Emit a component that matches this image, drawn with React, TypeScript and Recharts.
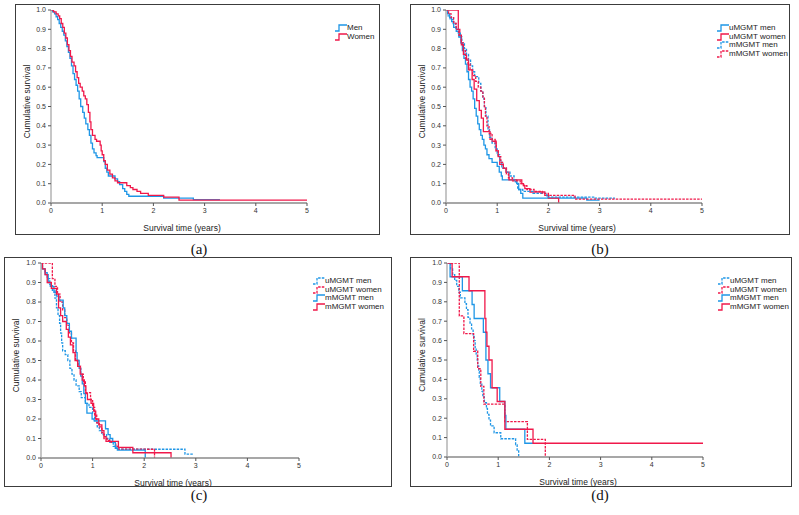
import React from 'react';
import { LineChart, Line, XAxis, YAxis, Legend, Label } from 'recharts';

type Pt = [number, number];

const FONT = '"Liberation Sans Narrow", "Liberation Sans", Arial, sans-serif';
const BLUE = '#1e96e6';
const RED = '#f0184a';

const xTicks = [0, 1, 2, 3, 4, 5];
const yTicks = [0, 0.1, 0.2, 0.3, 0.4, 0.5, 0.6, 0.7, 0.8, 0.9, 1.0];
const panelLabels = ['(a)', '(b)', '(c)', '(d)'];
const xTitle = 'Survival time (years)';
const yTitle = 'Cumulative survival';

// (a) all patients by sex: [years, survival]
const aMen: Pt[] = [
  [0, 1], [0.03, 0.99], [0.07, 0.98], [0.1, 0.965], [0.13, 0.95], [0.16, 0.93], [0.19, 0.91],
  [0.22, 0.89], [0.25, 0.87], [0.28, 0.84], [0.31, 0.81], [0.34, 0.78], [0.37, 0.75], [0.4, 0.71],
  [0.43, 0.67], [0.46, 0.64], [0.49, 0.61], [0.52, 0.58], [0.55, 0.54], [0.58, 0.5], [0.62, 0.47],
  [0.65, 0.44], [0.68, 0.41], [0.72, 0.38], [0.75, 0.35], [0.78, 0.31], [0.81, 0.28], [0.84, 0.26],
  [0.88, 0.245], [0.9, 0.235], [1.03, 0.215], [1.06, 0.18], [1.09, 0.16], [1.12, 0.14], [1.25, 0.125],
  [1.3, 0.11], [1.34, 0.095], [1.4, 0.075], [1.44, 0.06], [1.48, 0.045], [1.52, 0.035], [2.2, 0.025],
  [2.78, 0.018], [3.3, 0.018],
];
const aWomen: Pt[] = [
  [0, 1], [0.05, 0.99], [0.1, 0.98], [0.14, 0.97], [0.17, 0.955], [0.2, 0.93], [0.23, 0.91],
  [0.26, 0.88], [0.29, 0.855], [0.32, 0.82], [0.35, 0.79], [0.38, 0.76], [0.41, 0.73], [0.45, 0.71],
  [0.48, 0.68], [0.51, 0.65], [0.54, 0.62], [0.57, 0.6], [0.61, 0.58], [0.64, 0.555], [0.67, 0.54],
  [0.7, 0.51], [0.73, 0.47], [0.76, 0.42], [0.78, 0.38], [0.81, 0.35], [0.86, 0.33], [0.89, 0.32],
  [0.96, 0.3], [0.98, 0.27], [1.0, 0.25], [1.03, 0.22], [1.06, 0.2], [1.1, 0.17], [1.15, 0.15],
  [1.2, 0.13], [1.25, 0.115], [1.3, 0.105], [1.48, 0.09], [1.55, 0.08], [1.6, 0.07], [1.68, 0.06],
  [1.75, 0.05], [1.9, 0.04], [2.2, 0.03], [2.5, 0.015], [5, 0.015],
];

// (b)
const bUMen: Pt[] = [
  [0, 1], [0.03, 0.98], [0.07, 0.96], [0.11, 0.94], [0.15, 0.91], [0.2, 0.89], [0.25, 0.86],
  [0.29, 0.83], [0.32, 0.79], [0.35, 0.75], [0.38, 0.72], [0.41, 0.68], [0.44, 0.64], [0.47, 0.6],
  [0.5, 0.58], [0.53, 0.54], [0.56, 0.49], [0.59, 0.45], [0.62, 0.41], [0.65, 0.38], [0.68, 0.35],
  [0.71, 0.33], [0.74, 0.3], [0.77, 0.28], [0.8, 0.25], [0.84, 0.23], [0.9, 0.21], [1.0, 0.19],
  [1.04, 0.16], [1.08, 0.14], [1.1, 0.12], [1.38, 0.1], [1.42, 0.07], [1.46, 0.05], [1.5, 0.025],
  [2.75, 0.015], [3.0, 0.015],
];
const bUWomen: Pt[] = [
  [0, 1], [0.24, 0.9], [0.27, 0.87], [0.3, 0.82], [0.34, 0.77], [0.4, 0.74], [0.44, 0.69],
  [0.51, 0.64], [0.55, 0.59], [0.6, 0.53], [0.65, 0.48], [0.69, 0.44], [0.73, 0.37], [0.86, 0.33],
  [0.9, 0.32], [0.98, 0.27], [1.02, 0.24], [1.05, 0.2], [1.12, 0.18], [1.17, 0.16], [1.23, 0.12],
  [1.48, 0.1], [1.51, 0.09], [1.54, 0.075], [1.64, 0.057], [1.93, 0.04], [2.0, 0.025], [2.2, 0],
];
const bMMen: Pt[] = [
  [0, 1], [0.04, 0.97], [0.08, 0.95], [0.14, 0.93], [0.19, 0.9], [0.24, 0.88], [0.28, 0.86],
  [0.31, 0.83], [0.36, 0.8], [0.4, 0.77], [0.44, 0.74], [0.48, 0.71], [0.52, 0.68], [0.56, 0.655],
  [0.64, 0.62], [0.68, 0.58], [0.72, 0.54], [0.75, 0.5], [0.78, 0.45], [0.82, 0.38], [0.85, 0.34],
  [0.9, 0.31], [0.96, 0.28], [1.0, 0.25], [1.05, 0.22], [1.09, 0.18], [1.18, 0.16], [1.25, 0.14],
  [1.33, 0.11], [1.4, 0.07], [1.5, 0.06], [1.7, 0.05], [1.97, 0.03], [2.9, 0.025], [3.3, 0.025],
];
const bMWomen: Pt[] = [
  [0, 1], [0.05, 0.98], [0.1, 0.96], [0.15, 0.93], [0.2, 0.9], [0.25, 0.87], [0.3, 0.83],
  [0.34, 0.79], [0.38, 0.75], [0.43, 0.72], [0.47, 0.69], [0.52, 0.66], [0.58, 0.63], [0.63, 0.6],
  [0.68, 0.58], [0.72, 0.55], [0.75, 0.5], [0.77, 0.45], [0.8, 0.4], [0.84, 0.36], [0.9, 0.33],
  [0.96, 0.31], [0.98, 0.27], [1.02, 0.24], [1.07, 0.21], [1.12, 0.18], [1.18, 0.15], [1.22, 0.13],
  [1.3, 0.115], [1.45, 0.1], [1.52, 0.09], [1.58, 0.07], [1.72, 0.06], [1.88, 0.05], [2.0, 0.04],
  [2.52, 0.02], [5, 0.02],
];

// (c)
const cUMen: Pt[] = [
  [0, 1], [0.03, 0.97], [0.08, 0.95], [0.12, 0.92], [0.17, 0.89], [0.22, 0.86], [0.27, 0.82],
  [0.3, 0.77], [0.33, 0.73], [0.36, 0.69], [0.38, 0.64], [0.4, 0.59], [0.42, 0.55], [0.47, 0.53],
  [0.52, 0.5], [0.56, 0.46], [0.6, 0.43], [0.64, 0.4], [0.68, 0.37], [0.74, 0.34], [0.78, 0.31],
  [0.86, 0.28], [0.93, 0.26], [1.0, 0.23], [1.04, 0.19], [1.09, 0.16], [1.13, 0.14], [1.18, 0.12],
  [1.27, 0.1], [1.33, 0.08], [1.4, 0.06], [1.47, 0.045], [2.79, 0.02], [2.95, 0.02],
];
const cUWomen: Pt[] = [
  [0, 1], [0.22, 0.92], [0.27, 0.88], [0.32, 0.84], [0.37, 0.8], [0.42, 0.76], [0.46, 0.72],
  [0.5, 0.68], [0.55, 0.64], [0.59, 0.59], [0.63, 0.55], [0.67, 0.5], [0.72, 0.47], [0.77, 0.43],
  [0.82, 0.39], [0.86, 0.335], [0.96, 0.3], [1.0, 0.26], [1.04, 0.22], [1.08, 0.18], [1.13, 0.16],
  [1.18, 0.13], [1.22, 0.1], [1.28, 0.09], [1.36, 0.08], [1.45, 0.06], [1.5, 0.045], [2.2, 0],
];
const cMMen: Pt[] = [
  [0, 1], [0.02, 0.97], [0.08, 0.94], [0.14, 0.9], [0.18, 0.88], [0.25, 0.85], [0.3, 0.83],
  [0.35, 0.81], [0.43, 0.77], [0.46, 0.73], [0.5, 0.69], [0.55, 0.65], [0.59, 0.615], [0.68, 0.54],
  [0.7, 0.5], [0.74, 0.46], [0.77, 0.42], [0.8, 0.38], [0.83, 0.33], [0.86, 0.28], [0.89, 0.23],
  [0.99, 0.2], [1.03, 0.19], [1.25, 0.15], [1.3, 0.12], [1.34, 0.1], [1.39, 0.08], [1.44, 0.05],
  [1.48, 0.04], [2.02, 0],
];
const cMWomen: Pt[] = [
  [0, 1], [0.03, 0.97], [0.08, 0.94], [0.12, 0.9], [0.2, 0.87], [0.3, 0.84], [0.34, 0.77],
  [0.38, 0.73], [0.42, 0.7], [0.49, 0.66], [0.53, 0.62], [0.57, 0.58], [0.62, 0.54], [0.66, 0.5],
  [0.71, 0.47], [0.76, 0.43], [0.8, 0.4], [0.84, 0.37], [0.87, 0.33], [0.9, 0.3], [0.97, 0.28],
  [1.02, 0.24], [1.06, 0.2], [1.12, 0.17], [1.18, 0.14], [1.22, 0.11], [1.26, 0.085], [1.5, 0.055],
  [1.78, 0.027], [2.52, 0],
];

// (d)
const dUMen: Pt[] = [
  [0, 1], [0.07, 0.97], [0.11, 0.94], [0.15, 0.91], [0.19, 0.88], [0.23, 0.85], [0.26, 0.82],
  [0.35, 0.79], [0.38, 0.76], [0.41, 0.72], [0.45, 0.69], [0.48, 0.66], [0.51, 0.63], [0.53, 0.6],
  [0.55, 0.56], [0.57, 0.53], [0.59, 0.5], [0.6, 0.47], [0.62, 0.44], [0.63, 0.41], [0.65, 0.38],
  [0.68, 0.34], [0.7, 0.31], [0.73, 0.28], [0.77, 0.25], [0.79, 0.22], [0.82, 0.19], [0.85, 0.16],
  [0.92, 0.125], [1.05, 0.094], [1.34, 0.063], [1.37, 0.031], [1.4, 0],
];
const dUWomen: Pt[] = [
  [0, 1], [0.24, 0.727], [0.33, 0.636], [0.52, 0.545], [0.6, 0.455], [0.66, 0.364], [0.72, 0.273],
  [1.13, 0.182], [1.57, 0.091], [1.92, 0],
];
const dMMen: Pt[] = [
  [0, 1], [0.06, 0.929], [0.3, 0.857], [0.49, 0.786], [0.53, 0.714], [0.71, 0.643], [0.76, 0.5],
  [0.8, 0.429], [0.85, 0.357], [1.03, 0.286], [1.13, 0.214], [1.15, 0.143], [1.52, 0.071], [1.68, 0.071],
];
const dMWomen: Pt[] = [
  [0, 1], [0.1, 0.929], [0.43, 0.857], [0.74, 0.714], [0.76, 0.643], [0.78, 0.571], [0.82, 0.5],
  [0.88, 0.357], [0.98, 0.286], [1.13, 0.143], [1.68, 0.071], [5, 0.071],
];

interface Series {
  name: string;
  pts: Pt[];
  color: string;
  dashed?: boolean;
}

interface PanelCfg {
  box: [number, number, number, number];
  plot: [number, number, number, number];
  series: Series[];
  legend: { left: number; top: number };
  label: string;
  labelPos: [number, number];
}

const panels: PanelCfg[] = [
  {
    box: [15, 4, 380, 235],
    plot: [51, 10, 307, 203],
    series: [
      { name: 'Men', pts: aMen, color: BLUE },
      { name: 'Women', pts: aWomen, color: RED },
    ],
    legend: { left: 320, top: 20 },
    label: panelLabels[0],
    labelPos: [199, 249],
  },
  {
    box: [410, 4, 790, 235],
    plot: [446, 10, 702, 203],
    series: [
      { name: 'uMGMT men', pts: bUMen, color: BLUE },
      { name: 'uMGMT women', pts: bUWomen, color: RED },
      { name: 'mMGMT men', pts: bMMen, color: BLUE, dashed: true },
      { name: 'mMGMT women', pts: bMWomen, color: RED, dashed: true },
    ],
    legend: { left: 307, top: 20 },
    label: panelLabels[1],
    labelPos: [600, 249],
  },
  {
    box: [4, 257, 392, 487],
    plot: [41, 263, 299, 458],
    series: [
      { name: 'uMGMT men', pts: cUMen, color: BLUE, dashed: true },
      { name: 'uMGMT women', pts: cUWomen, color: RED, dashed: true },
      { name: 'mMGMT men', pts: cMMen, color: BLUE },
      { name: 'mMGMT women', pts: cMWomen, color: RED },
    ],
    legend: { left: 309, top: 20 },
    label: panelLabels[2],
    labelPos: [199, 495],
  },
  {
    box: [410, 257, 792, 487],
    plot: [447, 263, 703, 457],
    series: [
      { name: 'uMGMT men', pts: dUMen, color: BLUE, dashed: true },
      { name: 'uMGMT women', pts: dUWomen, color: RED, dashed: true },
      { name: 'mMGMT men', pts: dMMen, color: BLUE },
      { name: 'mMGMT women', pts: dMWomen, color: RED },
    ],
    legend: { left: 308, top: 20 },
    label: panelLabels[3],
    labelPos: [600, 495],
  },
];

const toRows = (pts: Pt[]) => pts.map(([t, s]) => ({ t, s }));

function LegendBox({ series }: { series: Series[] }) {
  return (
    <div style={{ fontFamily: FONT, fontSize: 8, color: '#222', lineHeight: '8.5px' }}>
      {series.map((s) => (
        <div key={s.name} style={{ display: 'flex', alignItems: 'center', height: 8.5 }}>
          <svg width={12} height={8} style={{ display: 'block' }}>
            <path
              d="M0 7 H4 V1 H12"
              fill="none"
              stroke={s.color}
              strokeWidth={1.3}
              strokeDasharray={s.dashed ? '2.5 1.2' : undefined}
            />
          </svg>
          <span>{s.name}</span>
        </div>
      ))}
    </div>
  );
}

function Panel({ cfg }: { cfg: PanelCfg }) {
  const [bx0, by0, bx1, by1] = cfg.box;
  const [px0, py0, px1, py1] = cfg.plot;
  const W = bx1 - bx0;
  const H = by1 - by0;
  const tick = { fontFamily: FONT, fontSize: 7, fill: '#333' };
  return (
    <>
      <div
        style={{
          position: 'absolute', left: bx0, top: by0, width: W, height: H,
          border: '1.5px solid #3c3c3c', boxSizing: 'border-box',
        }}
      />
      <div style={{ position: 'absolute', left: bx0, top: by0 }}>
        <LineChart width={W} height={H} margin={{ top: py0 - by0, right: bx1 - px1, bottom: 0, left: 0 }}>
          <XAxis
            dataKey="t"
            type="number"
            domain={[0, 5]}
            ticks={xTicks}
            allowDataOverflow
            height={by1 - py1}
            tick={tick}
            tickSize={3}
            tickMargin={2}
            axisLine={{ stroke: '#8a8a8a', strokeWidth: 1.3 }}
            tickLine={{ stroke: '#555' }}
          >
            <Label
              content={({ viewBox }: any) => (
                <text
                  x={viewBox.x + viewBox.width / 2 + 3}
                  y={viewBox.y + 25}
                  textAnchor="middle"
                  dominantBaseline="central"
                  fontFamily={FONT}
                  fontSize={8.5}
                  fill="#222"
                >
                  {xTitle}
                </text>
              )}
            />
          </XAxis>
          <YAxis
            type="number"
            domain={[0, 1]}
            ticks={yTicks}
            allowDataOverflow
            width={px0 - bx0}
            tick={tick}
            tickSize={3}
            tickMargin={2}
            tickFormatter={(v: number) => v.toFixed(1)}
            axisLine={{ stroke: '#a8a8a8', strokeWidth: 1.3 }}
            tickLine={{ stroke: '#555' }}
          >
            <Label
              content={({ viewBox }: any) => {
                const cx = viewBox.x + 12;
                const cy = viewBox.y + viewBox.height / 2 - 5;
                return (
                  <text
                    x={cx}
                    y={cy}
                    transform={`rotate(-90 ${cx} ${cy})`}
                    textAnchor="middle"
                    dominantBaseline="central"
                    fontFamily={FONT}
                    fontSize={8.5}
                    fill="#222"
                  >
                    {yTitle}
                  </text>
                );
              }}
            />
          </YAxis>
          <Legend
            layout="vertical"
            align="center"
            verticalAlign="middle"
            wrapperStyle={{ left: cfg.legend.left, top: cfg.legend.top, width: 'auto', height: 'auto' }}
            content={() => <LegendBox series={cfg.series} />}
          />
          {cfg.series.map((s) => (
            <Line
              key={s.name}
              name={s.name}
              data={toRows(s.pts)}
              dataKey="s"
              type="stepAfter"
              stroke={s.color}
              strokeWidth={1.3}
              strokeDasharray={s.dashed ? '2.5 1.2' : undefined}
              dot={false}
              activeDot={false}
              isAnimationActive={false}
            />
          ))}
        </LineChart>
      </div>
      <div
        style={{
          position: 'absolute', left: cfg.labelPos[0] - 20, top: cfg.labelPos[1] - 9, width: 40,
          textAlign: 'center', fontFamily: '"Liberation Serif", serif', fontSize: 15, color: '#111',
          lineHeight: '18px',
        }}
      >
        {cfg.label}
      </div>
    </>
  );
}

export default function App() {
  return (
    <div style={{ position: 'absolute', left: 0, top: 0, width: 799, height: 515, background: '#fff' }}>
      {panels.map((p) => (
        <Panel key={p.label} cfg={p} />
      ))}
    </div>
  );
}
